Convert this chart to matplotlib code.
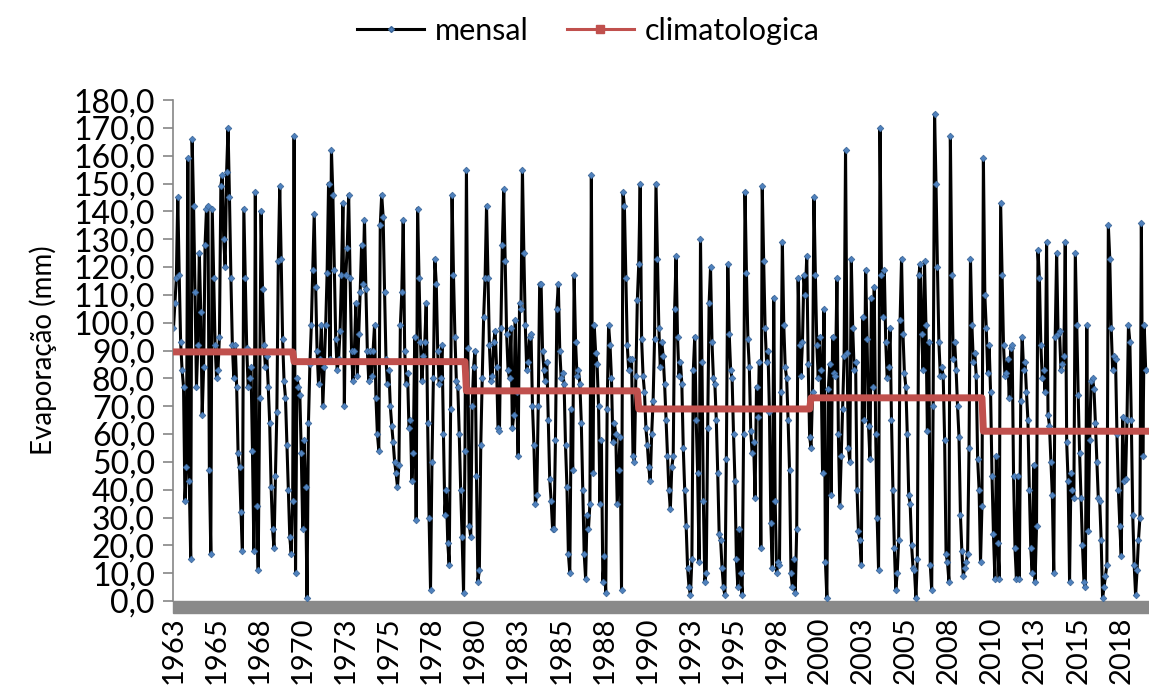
import numpy as np
import matplotlib
matplotlib.use('Agg')
from matplotlib import pyplot as plt
from matplotlib.lines import Line2D
from matplotlib.patches import Rectangle
from matplotlib.ticker import FuncFormatter

plt.rcParams['font.family'] = ['Lato', 'DejaVu Sans']

# evaporacao mensal (mm), uma linha por ano
evap_1963_1969 = [
    98, 107, 116, 145, 117, 93, 83, 77, 36, 48, 159, 43,
    15, 166, 142, 111, 77, 92, 125, 104, 67, 84, 128, 141,
    142, 47, 17, 141, 116, 92, 80, 83, 95, 149, 153, 130,
    120, 154, 170, 145, 116, 92, 80, 92, 77, 53, 48, 32,
    18, 141, 116, 91, 77, 80, 84, 54, 18, 147, 34, 11,
    73, 140, 112, 92, 84, 88, 77, 64, 41, 26, 19, 45,
    68, 122, 149, 123, 94, 79, 73, 56, 40, 23, 17, 36,
]
evap_1970s = [
    167, 10, 80, 77, 74, 53, 26, 58, 41, 1, 64, 85,
    99, 119, 139, 113, 90, 78, 87, 99, 70, 84, 99, 118,
    150, 87, 162, 146, 119, 94, 83, 87, 97, 117, 143, 70,
    117, 127, 146, 116, 90, 79, 90, 107, 81, 96, 111, 128,
    114, 137, 112, 90, 79, 90, 81, 90, 99, 73, 60, 54,
    135, 146, 138, 111, 87, 78, 83, 70, 63, 57, 50, 46,
    41, 49, 99, 111, 137, 90, 78, 82, 62, 65, 43, 53,
    95, 29, 141, 116, 93, 79, 88, 93, 107, 64, 30, 4,
    50, 80, 123, 114, 90, 78, 80, 92, 60, 31, 40, 21,
    13, 69, 146, 117, 95, 79, 77, 60, 40, 23, 3, 54,
]
evap_1980s = [
    155, 91, 27, 23, 70, 84, 90, 45, 7, 11, 56, 80,
    102, 116, 142, 116, 92, 79, 81, 93, 97, 84, 62, 61,
    98, 128, 148, 122, 96, 83, 80, 98, 62, 67, 101, 75,
    52, 107, 105, 155, 125, 99, 83, 86, 95, 96, 70, 56,
    35, 38, 70, 114, 114, 90, 83, 79, 86, 65, 44, 36,
    26, 26, 58, 105, 114, 90, 80, 82, 78, 56, 41, 17,
    10, 69, 47, 117, 93, 81, 83, 78, 64, 40, 17, 8,
    31, 26, 35, 153, 46, 99, 89, 85, 70, 35, 58, 7,
    16, 3, 69, 99, 92, 80, 57, 64, 60, 35, 47, 59,
    4, 147, 142, 116, 92, 83, 87, 87, 52, 50, 81, 108,
]
evap_1990s = [
    121, 150, 94, 81, 75, 62, 56, 48, 43, 60, 72, 94,
    150, 123, 98, 84, 93, 88, 78, 65, 52, 40, 33, 48,
    52, 105, 124, 95, 81, 86, 78, 55, 40, 27, 12, 5,
    2, 15, 83, 95, 65, 46, 14, 130, 86, 36, 7, 10,
    62, 107, 120, 93, 80, 78, 65, 46, 24, 22, 12, 5,
    2, 51, 121, 96, 83, 80, 60, 43, 15, 5, 26, 10,
    2, 60, 147, 118, 94, 84, 61, 53, 57, 37, 77, 66,
    86, 19, 149, 122, 98, 86, 90, 68, 28, 12, 109, 36,
    10, 14, 13, 75, 129, 99, 84, 80, 65, 47, 10, 5,
    15, 3, 26, 116, 92, 81, 93, 117, 110, 124, 85, 59,
]
evap_2000s = [
    55, 75, 145, 117, 92, 80, 95, 83, 46, 105, 14, 1,
    76, 85, 38, 95, 82, 81, 116, 60, 34, 52, 69, 88,
    162, 89, 55, 50, 123, 98, 83, 86, 40, 25, 22, 13,
    102, 65, 119, 94, 63, 51, 109, 77, 113, 60, 30, 11,
    170, 117, 102, 119, 93, 80, 84, 98, 65, 40, 19, 4,
    10, 22, 101, 123, 96, 82, 77, 60, 38, 35, 20, 12,
    11, 1, 15, 117, 121, 96, 83, 122, 99, 61, 93, 13,
    4, 70, 175, 150, 120, 93, 81, 84, 81, 58, 17, 14,
    7, 167, 117, 87, 93, 83, 70, 59, 31, 18, 9, 12,
    14, 17, 55, 123, 99, 86, 89, 81, 51, 40, 14, 34,
]
evap_2010s = [
    159, 110, 98, 82, 92, 75, 45, 24, 8, 52, 21, 8,
    143, 117, 92, 81, 82, 87, 73, 91, 92, 45, 19, 8,
    45, 8, 72, 95, 83, 86, 75, 65, 40, 19, 10, 49,
    7, 27, 126, 116, 92, 80, 83, 75, 129, 67, 63, 50,
    38, 10, 95, 125, 96, 97, 83, 85, 88, 129, 57, 43,
    7, 46, 40, 37, 125, 99, 74, 53, 37, 20, 7, 5,
    99, 25, 58, 79, 80, 76, 64, 50, 37, 36, 22, 1,
    5, 9, 13, 135, 123, 98, 83, 88, 87, 60, 40, 27,
    16, 66, 43, 44, 65, 99, 93, 65, 31, 13, 2, 11,
    22, 30, 136, 52, 99, 83,
]

# media climatologica por periodo
clim_values = [89.5, 86.0, 75.5, 69.0, 73.0, 61.0]

decades = [evap_1963_1969, evap_1970s, evap_1980s, evap_1990s, evap_2000s, evap_2010s]
mensal = np.concatenate([np.array(d, dtype=float) for d in decades])
climat = np.concatenate([np.full(len(d), c) for d, c in zip(decades, clim_values)])
x = np.arange(len(mensal))

start_year = 1963
tick_pos = np.arange(0, len(mensal), 30)
tick_lab = [str(start_year + p // 12) for p in tick_pos]

#%%
fig = plt.figure(figsize=(11.49, 6.9), dpi=100)
ax = fig.add_axes([0.1506, 0.129, 0.849, 0.726])

ax.plot(x, mensal, color='black', lw=2.2, marker='D', markersize=3.4,
        markerfacecolor='#4F81BD', markeredgecolor='#3A6496', markeredgewidth=0.5, zorder=2)
ax.plot(x, climat, color='#C0504D', lw=5, zorder=3)

ax.set_xlim(-0.3, len(mensal) + 1)
ax.set_ylim(0, 180)
ax.set_yticks(np.arange(0, 181, 10))
ax.yaxis.set_major_formatter(FuncFormatter(lambda v, p: f'{v:.1f}'.replace('.', ',')))
ax.set_xticks(tick_pos)
ax.set_xticklabels(tick_lab, rotation=90)

for s in ['top', 'right', 'bottom']:
    ax.spines[s].set_visible(False)
ax.spines['left'].set_color('#868686')
ax.spines['left'].set_linewidth(1.2)
ax.tick_params(axis='y', colors='#868686', labelcolor='black', labelsize=23,
               length=7, width=1.2, pad=6)
ax.tick_params(axis='x', length=0, labelsize=21, pad=11)

# faixa cinza do eixo x
ax.add_patch(Rectangle((0, -0.023), 1, 0.023, transform=ax.transAxes,
                       color='#898989', clip_on=False, zorder=1))

ax.set_ylabel('Evaporação (mm)', fontsize=20, labelpad=12)

handles = [
    Line2D([], [], color='black', lw=2.2, marker='D', markersize=3,
           markerfacecolor='#4F81BD', markeredgecolor='#3A6496'),
    Line2D([], [], color='#C0504D', lw=2.2, marker='s', markersize=6,
           markerfacecolor='#C0504D', markeredgecolor='#C0504D'),
]
fig.legend(handles, ['mensal', 'climatologica'], loc='center',
           bbox_to_anchor=(0.512, 0.955), ncol=2, frameon=False, fontsize=22,
           handlelength=2.2, handletextpad=0.35, columnspacing=1.25)

plt.savefig('out.png', dpi=100)
